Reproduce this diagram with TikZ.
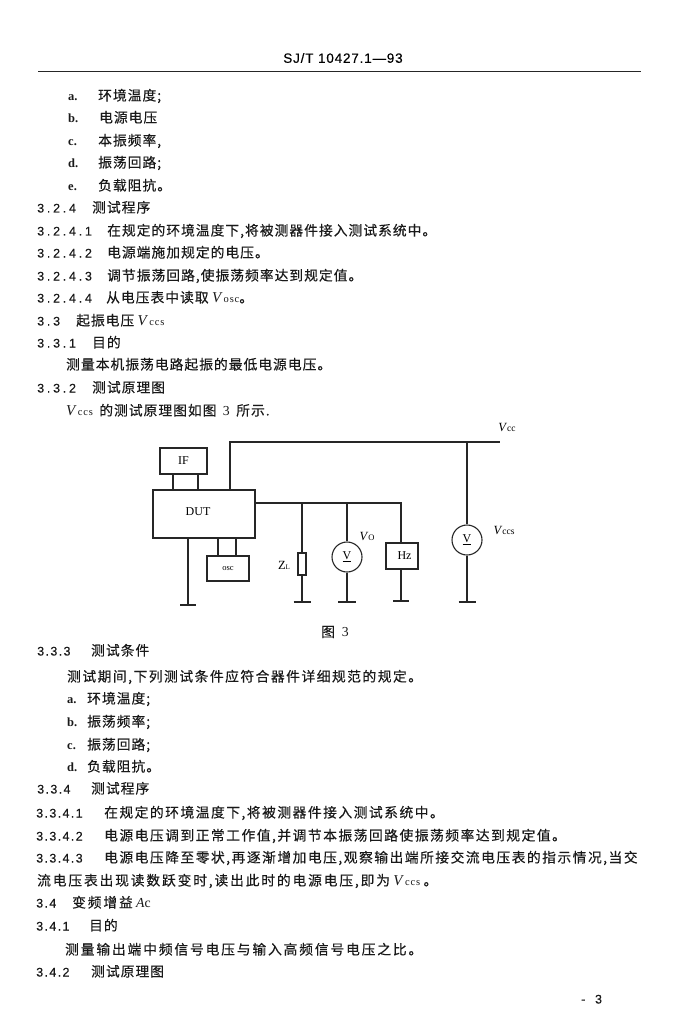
\documentclass[tikz,border=0pt]{standalone}
\usepackage{fontspec}
\setmainfont{Liberation Serif}
\newfontfamily\cjk[LetterSpace=7.5,FakeBold=0.35]{Noto Sans CJK SC}
\newfontfamily\cjkm[LetterSpace=11,FakeBold=0.35]{Noto Sans CJK SC}
\newfontfamily\cjkw[LetterSpace=13.5,FakeBold=0.35]{Noto Sans CJK SC}
\newfontfamily\numf[LetterSpace=22,FakeBold=0.3]{Liberation Sans}
\newfontfamily\numl[LetterSpace=11,FakeBold=0.3]{Liberation Sans}
\newfontfamily\hdrf[LetterSpace=6,FakeBold=0.3]{Liberation Sans}
\newcommand{\vsb}[1]{\textit{V}{\fontsize{9.5}{10}\selectfont #1}}
\newcommand{\vtx}[1]{{\fontsize{15}{15}\selectfont\textit{V}\hspace{1pt}}{\addfontfeature{LetterSpace=8}\fontsize{10.5}{11}\selectfont #1}}
\tikzset{
  txt/.style={anchor=base west,inner sep=0pt,yshift=-1.5pt,font=\fontsize{13.75}{15}\selectfont,text=black!90},
  numt/.style={txt,font=\numf\fontsize{12.5}{15}\selectfont},
  numb/.style={txt,font=\numl\fontsize{12.5}{15}\selectfont},
  lett/.style={txt,font=\bfseries\fontsize{12.5}{15}\selectfont},
  wire/.style={line width=1.1pt,black!85},
  blockbox/.style={draw=black!85,line width=1.2pt,inner sep=0pt,font=\fontsize{12}{12}\selectfont},
  meter/.style={circle,draw=black!85,line width=1.1pt,minimum size=30pt,inner sep=0pt,font=\fontsize{12}{12}\selectfont},
  gbar/.style={line width=2.2pt,black!85},
  lbl/.style={inner sep=0pt,font=\fontsize{12.5}{13}\selectfont}
}
\begin{document}
\begin{tikzpicture}[x=1pt,y=-1pt]
\useasboundingbox (0,0) rectangle (683,1024);
% header
\node[lbl,font=\hdrf\fontsize{13.5}{14}\selectfont] (hdr) at (343,58) {SJ/T 10427.1—93};
\coordinate (rl) at (38,71); \coordinate (rr) at (641,71);
\draw[line width=0.9pt,black!85] (rl) -- (rr);
% upper list
\node[lett] (a1) at (68,99) {a.};   \node[txt] (a1t) at (98,99) {\cjk 环境温度;};
\node[lett] (b1) at (68,121) {b.};  \node[txt] (b1t) at (99,121) {\cjk 电源电压};
\node[lett] (c1) at (68,144) {c.};  \node[txt] (c1t) at (98,144) {\cjk 本振频率,};
\node[lett] (d1) at (68,166) {d.};  \node[txt] (d1t) at (98,166) {\cjk 振荡回路;};
\node[lett] (e1) at (68,189) {e.};  \node[txt] (e1t) at (98,189) {\cjk 负载阻抗。};
\node[numt] (n324) at (37,211) {3.2.4};     \node[txt] (t324) at (92,211) {\cjk 测试程序};
\node[numt] (n3241) at (37,234) {3.2.4.1};  \node[txt] (t3241) at (107,234) {\cjk 在规定的环境温度下,将被测器件接入测试系统中。};
\node[numt] (n3242) at (37,256) {3.2.4.2};  \node[txt] (t3242) at (107,256) {\cjk 电源端施加规定的电压。};
\node[numt] (n3243) at (37,279) {3.2.4.3};  \node[txt] (t3243) at (107,279) {\cjk 调节振荡回路,使振荡频率达到规定值。};
\node[numt] (n3244) at (37,301) {3.2.4.4};  \node[txt] (t3244) at (106,301) {{\cjk 从电压表中读取} \vtx{osc}{\cjk 。}};
\node[numt] (n33) at (37,324) {3.3};        \node[txt] (t33) at (76,324) {{\cjk 起振电压} \vtx{ccs}};
\node[numt] (n331) at (37,346) {3.3.1};     \node[txt] (t331) at (92,346) {\cjk 目的};
\node[txt] (t331b) at (66,368) {\cjk 测量本机振荡电路起振的最低电源电压。};
\node[numt] (n332) at (37,391) {3.3.2};     \node[txt] (t332) at (92,391) {\cjk 测试原理图};
\node[txt] (t332b) at (66,414) {\vtx{ccs}\hspace{3pt} {\cjk 的测试原理图如图}\hspace{3pt} 3\hspace{3pt} {\cjk 所示.}};
% diagram
\node[blockbox,minimum width=102pt,minimum height=48pt] (dut) at (204,514) {};
\node[blockbox,draw=none,minimum width=0pt,minimum height=0pt] (dutl) at (198,512) {DUT};
\node[blockbox,minimum width=47pt,minimum height=26pt] (ifb) at (183.5,461) {IF};
\node[blockbox,minimum width=42pt,minimum height=25pt,font=\fontsize{8.5}{9}\selectfont] (osc) at (228,568.5) {osc};
\node[draw=black!85,line width=1.1pt,inner sep=0pt,minimum width=8pt,minimum height=22pt] (zl) at (302,564) {};
\node[meter] (vo) at (347,557) {\underline{V}};
\node[blockbox,minimum width=32pt,minimum height=26pt] (hz) at (402,556) {\hspace{5pt}Hz};
\node[meter] (vs) at (467,540) {\underline{V}};
% junctions and ends
\coordinate (vccl) at (230,442); \coordinate (vccr) at (500,442); \coordinate (vccj) at (467,442);
\coordinate (outl) at (255,503); \coordinate (outr) at (401,503);
\coordinate (zj) at (302,503); \coordinate (vj) at (347,503);
\coordinate (g1) at (188,605); \coordinate (g2) at (302,602); \coordinate (g3) at (347,602);
\coordinate (g4) at (401,601); \coordinate (g5) at (467,602);
\coordinate (ifa) at (173,474); \coordinate (ifc) at (198,474);
\coordinate (osa) at (218,556); \coordinate (osb) at (236,556);
% connectors
\draw[wire] (ifa) -- (ifa |- dut.north);
\draw[wire] (ifc) -- (ifc |- dut.north);
\draw[wire] (vccl |- dut.north) -- (vccl) -- (vccr);
\draw[wire] (vccj) -- (vs.north);
\draw[wire] (vs.south) -- (g5);
\draw[wire] (outl) -- (outr) -- (outr |- hz.north);
\draw[wire] (zj) -- (zl.north);
\draw[wire] (zl.south) -- (g2);
\draw[wire] (vj) -- (vo.north);
\draw[wire] (vo.south) -- (g3);
\draw[wire] (hz.south -| g4) -- (g4);
\draw[wire] (osa |- dut.south) -- (osa);
\draw[wire] (osb |- dut.south) -- (osb);
\draw[wire] (g1 |- dut.south) -- (g1);
% grounds
\draw[gbar] ([xshift=-8pt]g1) -- ([xshift=8pt]g1);
\draw[gbar] ([xshift=-8.5pt]g2) -- ([xshift=8.5pt]g2);
\draw[gbar] ([xshift=-9pt]g3) -- ([xshift=9pt]g3);
\draw[gbar] ([xshift=-8pt]g4) -- ([xshift=8pt]g4);
\draw[gbar] ([xshift=-8.5pt]g5) -- ([xshift=8.5pt]g5);
% labels
\node[lbl] (lvcc) at (507,427) {\vsb{cc}};
\node[lbl] (lvccs) at (504,530) {\vsb{ccs}};
\node[lbl] (lvo) at (367,536) {\textit{V}{\fontsize{8.5}{9}\selectfont O}};
\node[lbl] (lzl) at (284,565) {Z{\fontsize{7}{8}\selectfont L}};
\node[txt,anchor=center,yshift=1.5pt] (fig) at (335,632) {{\cjk 图} \ 3};
% lower text
\node[numb] (n333) at (37,654) {3.3.3};     \node[txt] (t333) at (91,654) {\cjk 测试条件};
\node[txt] (t333b) at (67,680) {\cjkm 测试期间,下列测试条件应符合器件详细规范的规定。};
\node[lett] (a2) at (67,702) {a.};  \node[txt] (a2t) at (87,702) {\cjk 环境温度;};
\node[lett] (b2) at (67,725) {b.};  \node[txt] (b2t) at (87,725) {\cjk 振荡频率;};
\node[lett] (c2) at (67,748) {c.};  \node[txt] (c2t) at (87,748) {\cjk 振荡回路;};
\node[lett] (d2) at (67,770) {d.};  \node[txt] (d2t) at (87,770) {\cjk 负载阻抗。};
\node[numb] (n334) at (37,792) {3.3.4};     \node[txt] (t334) at (91,792) {\cjk 测试程序};
\node[numb] (n3341) at (36,816) {3.3.4.1};  \node[txt] (t3341) at (104,816) {\cjkm 在规定的环境温度下,将被测器件接入测试系统中。};
\node[numb] (n3342) at (36,839) {3.3.4.2};  \node[txt] (t3342) at (104,839) {\cjkm 电源电压调到正常工作值,并调节本振荡回路使振荡频率达到规定值。};
\node[numb] (n3343) at (36,861) {3.3.4.3};  \node[txt] (t3343) at (104,861) {\cjkm 电源电压降至零状,再逐渐增加电压,观察输出端所接交流电压表的指示情况,当交};
\node[txt] (t3343b) at (37,884) {{\cjkw 流电压表出现读数跃变时,读出此时的电源电压,即为} \vtx{ccs} {\cjk 。}};
\node[numb] (n34) at (36,906) {3.4};        \node[txt] (t34) at (72,906) {{\cjkw 变频增益} \textit{A}c};
\node[numb] (n341) at (36,929) {3.4.1};     \node[txt] (t341) at (89,929) {\cjk 目的};
\node[txt] (t341b) at (65,953) {\cjkw 测量输出端中频信号电压与输入高频信号电压之比。};
\node[numb] (n342) at (36,975) {3.4.2};     \node[txt] (t342) at (91,975) {\cjk 测试原理图};
\node[numb] (pg) at (581,1002) {- \ 3};
\end{tikzpicture}
\end{document}
